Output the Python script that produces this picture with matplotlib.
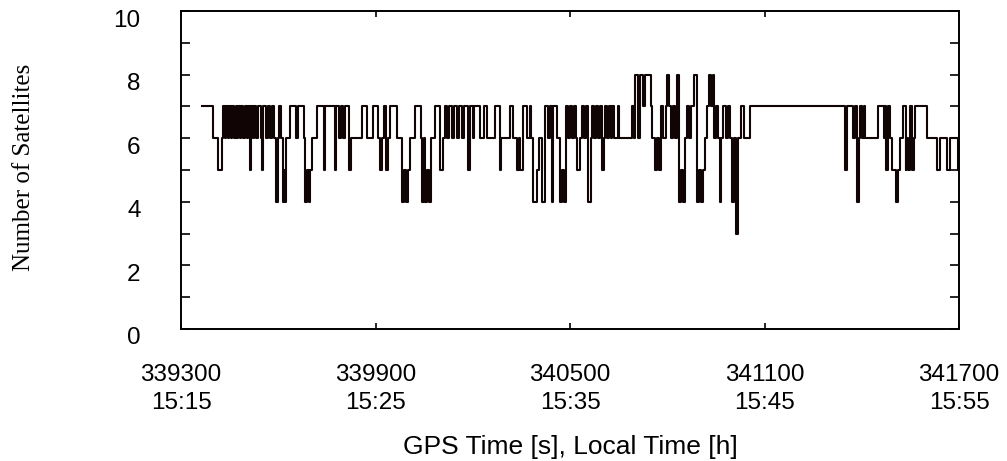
import numpy as np
import matplotlib
matplotlib.use("Agg")
import matplotlib.pyplot as plt
import matplotlib.transforms as mtransforms

# GPS time (s) at which the satellite count changes, and the new count
change_times = [
    339365, 339399, 339414, 339427, 339430, 339436, 339439, 339445, 339448, 339454,
    339457, 339464, 339470, 339473, 339476, 339482, 339485, 339491, 339498, 339504,
    339507, 339513, 339516, 339522, 339525, 339531, 339538, 339547, 339550, 339553,
    339562, 339568, 339575, 339581, 339587, 339593, 339599, 339602, 339609, 339615,
    339618, 339621, 339624, 339636, 339655, 339661, 339680, 339683, 339689, 339695,
    339698, 339704, 339720, 339741, 339744, 339775, 339778, 339788, 339794, 339800,
    339806, 339818, 339825, 339859, 339874, 339893, 339908, 339914, 339920, 339927,
    339933, 339939, 339945, 339967, 339982, 339988, 339994, 340001, 340007, 340022,
    340041, 340044, 340050, 340053, 340059, 340065, 340072, 340084, 340099, 340109,
    340115, 340121, 340127, 340136, 340143, 340152, 340158, 340167, 340173, 340186,
    340192, 340201, 340204, 340223, 340235, 340244, 340269, 340285, 340288, 340315,
    340325, 340337, 340343, 340346, 340356, 340368, 340377, 340380, 340386, 340399,
    340405, 340414, 340423, 340433, 340439, 340445, 340448, 340460, 340470, 340476,
    340482, 340488, 340494, 340501, 340507, 340513, 340519, 340522, 340531, 340538,
    340544, 340550, 340556, 340565, 340568, 340575, 340581, 340587, 340593, 340599,
    340606, 340609, 340615, 340621, 340627, 340630, 340636, 340649, 340652, 340692,
    340698, 340701, 340710, 340717, 340726, 340732, 340751, 340754, 340763, 340769,
    340775, 340781, 340788, 340797, 340800, 340806, 340812, 340818, 340825, 340831,
    340837, 340843, 340849, 340856, 340862, 340868, 340874, 340883, 340893, 340899,
    340905, 340911, 340917, 340923, 340930, 340936, 340942, 340945, 340951, 340957,
    340964, 340967, 340973, 340982, 340988, 340994, 341001, 341007, 341013, 341019,
    341028, 341038, 341056, 341349, 341356, 341374, 341380, 341386, 341393, 341396,
    341402, 341408, 341411, 341451, 341470, 341473, 341476, 341482, 341488, 341494,
    341507, 341513, 341519, 341528, 341535, 341538, 341544, 341550, 341556, 341562,
    341565, 341602, 341633, 341640, 341664, 341673, 341698, 341700,
]
satellites = [
    7, 6, 5, 6, 7, 6, 7, 6, 7, 6,
    7, 6, 7, 6, 7, 6, 7, 6, 7, 6,
    7, 5, 7, 6, 7, 6, 7, 6, 5, 7,
    6, 7, 6, 7, 6, 4, 6, 7, 6, 4,
    5, 4, 6, 7, 6, 7, 6, 4, 5, 4,
    5, 6, 7, 5, 7, 5, 7, 6, 7, 6,
    7, 5, 6, 7, 6, 7, 6, 5, 6, 7,
    5, 6, 7, 6, 4, 5, 4, 5, 6, 7,
    6, 4, 6, 4, 5, 4, 6, 7, 5, 6,
    7, 6, 7, 6, 7, 6, 7, 6, 7, 5,
    7, 6, 7, 6, 7, 6, 7, 5, 6, 7,
    6, 5, 6, 5, 7, 6, 7, 6, 4, 5,
    6, 4, 7, 6, 7, 4, 7, 6, 4, 5,
    4, 7, 6, 7, 6, 7, 6, 5, 6, 7,
    6, 7, 4, 6, 7, 6, 7, 6, 7, 5,
    6, 7, 6, 7, 6, 7, 6, 7, 6, 7,
    6, 8, 6, 8, 7, 8, 7, 6, 5, 6,
    5, 7, 6, 7, 8, 7, 6, 7, 6, 8,
    4, 5, 4, 6, 7, 6, 7, 8, 4, 5,
    4, 5, 6, 7, 8, 7, 8, 6, 7, 6,
    4, 6, 7, 6, 7, 6, 4, 6, 3, 6,
    7, 6, 7, 5, 7, 6, 7, 4, 6, 7,
    6, 7, 6, 7, 6, 7, 5, 7, 6, 5,
    4, 5, 6, 7, 5, 6, 5, 7, 5, 6,
    7, 6, 5, 6, 5, 6, 5, 5,
]

x_ticks = [339300, 339900, 340500, 341100, 341700]
local_times = ["15:15", "15:25", "15:35", "15:45", "15:55"]
y_ticks = [0, 2, 4, 6, 8, 10]

W, H, DPI = 1007, 461, 100
fig = plt.figure(figsize=(W / DPI, H / DPI), dpi=DPI)
ax = fig.add_axes([181 / W, 1 - 329 / H, (959 - 181) / W, (329 - 11) / H])

line_color = "#100404"
ax.plot(change_times, satellites, drawstyle="steps-post", color=line_color, lw=1.5)

ax.set_xlim(339300, 341700)
ax.set_ylim(0, 10)

sans = ["Liberation Sans", "DejaVu Sans"]
serif = ["Liberation Serif", "DejaVu Serif"]

ax.set_xticks(x_ticks)
ax.set_xticklabels([f"{t}\n{lt}" for t, lt in zip(x_ticks, local_times)],
                   family=sans, fontsize=17.5, linespacing=1.35)
ax.set_yticks(y_ticks)
ax.set_yticks(np.arange(1, 10, 2), minor=True)
ax.set_yticklabels([str(v) for v in y_ticks], family=sans, fontsize=17.5)

ax.tick_params(axis="x", which="both", direction="in", length=4.3, width=1.2,
               top=True, bottom=True, pad=25)
ax.tick_params(axis="y", which="both", direction="in", length=6.8, width=1.2,
               left=True, right=True, pad=29)

offset = mtransforms.ScaledTranslation(0, -7 / DPI, fig.dpi_scale_trans)
for lab in ax.get_yticklabels():
    lab.set_transform(lab.get_transform() + offset)

for sp in ax.spines.values():
    sp.set_linewidth(1.4)
    sp.set_color("black")

ax.set_xlabel("GPS Time [s], Local Time [h]", family=sans, fontsize=19)
ax.xaxis.label.set_va("center")
ax.xaxis.set_label_coords(0.5, (329 - 447) / 318)

ax.set_ylabel("Number of Satellites", family=serif, fontsize=18)
ax.yaxis.label.set_va("center")
ax.yaxis.set_label_coords((24 - 181) / 778, (329 - 167) / 318)

fig.savefig("out.png", dpi=DPI)
